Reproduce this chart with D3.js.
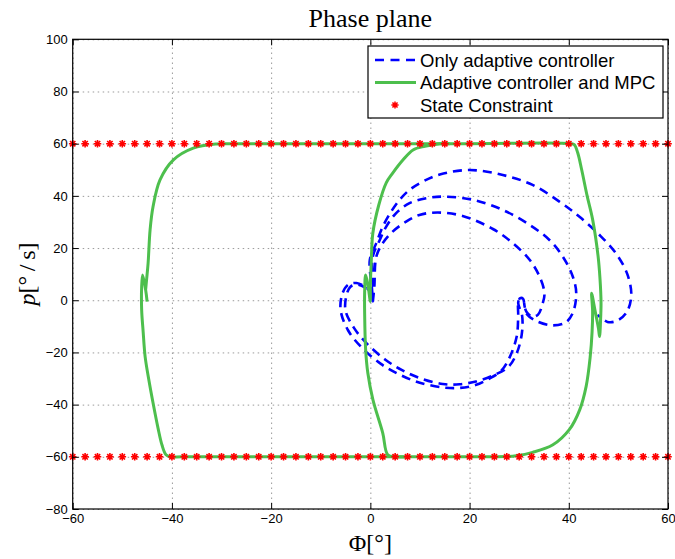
<!DOCTYPE html>
<meta charset="utf-8">

<script src="https://d3js.org/d3.v7.min.js"></script>

<style type="text/css">

body {
  margin: 0;
  background: #fff;
}

/* dotted grid */
.grid line {
  stroke: #9a9a9a;
  stroke-width: 1px;
  stroke-dasharray: 1.5 3.5;
}
.grid path {
  display: none;
}

.axis line {
  stroke: #000;
  stroke-width: 1px;
}
.axis path {
  display: none;
}
.axis text {
  font-family: "Liberation Sans", Arial, sans-serif;
  font-size: 13px;
  fill: #000;
}

.latex {
  font-family: "Liberation Serif", "Times New Roman", serif;
  fill: #000;
}

.legend text {
  font-family: "Liberation Sans", Arial, sans-serif;
  font-size: 18.5px;
  fill: #000;
}

</style>

<body>
</body>

<script>

// tick labels
var xTicks = [-60, -40, -20, 0, 20, 40, 60];
var yTicks = [-80, -60, -40, -20, 0, 20, 40, 60, 80, 100];

// state constraint markers (p = +/-60)
var constraintLevels = [60, -60];
var constraintX = [-60, -57.5, -55, -52.5, -50, -47.5, -45, -42.5, -40, -37.5, -35, -32.5,
  -30, -27.5, -25, -22.5, -20, -17.5, -15, -12.5, -10, -7.5, -5, -2.5, 0, 2.5, 5, 7.5,
  10, 12.5, 15, 17.5, 20, 22.5, 25, 27.5, 30, 32.5, 35, 37.5, 40, 42.5, 45, 47.5, 50,
  52.5, 55, 57.5, 60];

// only adaptive controller: [phi, p], three cycles
var adaptiveOnly = [
  [0.5, -0.5], [0.8, 5], [1.2, 16.7], [2.5, 21.9], [4.5, 26.3], [7.2, 30.1], [9.9, 32.7],
  [13.6, 33.6], [18.6, 32.3], [24.7, 27.3], [28.7, 21.9], [32.1, 15.5], [34.1, 9.1],
  [35.1, 2.7], [34.7, -1.5], [33.8, -5.5], [32.6, -6.3], [31.5, -4.5], [31.1, -2.4],
  [30.8, 0.5], [30.2, 0.8], [29.8, -1], [29.8, -6],
  [29.5, -13.9], [28.1, -21.8], [26.4, -27], [23.8, -30.2], [21.2, -32.5], [18, -33.6],
  [14.6, -33.4], [9.8, -31.5], [5.7, -28.3], [2.2, -24.5], [-1.8, -18], [-4.5, -11.5],
  [-6, -3.7], [-5.6, 2.7], [-4.5, 5.9], [-2.8, 6.6], [-1.1, 5.2], [0.2, 2.7], [0.5, -0.5],
  [0.6, 5], [0.5, 16.7], [1.9, 23.1], [3.2, 28.2], [5.2, 33.4], [7.9, 37.2], [11.3, 39.1],
  [14.6, 39.7], [20.7, 38.5], [26.7, 34.6], [32.1, 28.9], [36.1, 23.1], [38.8, 16.7],
  [40.8, 9.1], [41.5, 2.7], [40.8, -4.9], [39.3, -8.6], [36.5, -9.6], [33.5, -8],
  [31.6, -5.5], [31.1, -2.4], [30.8, 0.5], [30.2, 0.8], [29.8, -1], [30.6, -6],
  [30.5, -13.3], [29.4, -20.8], [27.8, -25.6], [25, -28.6], [21.5, -31], [18, -32.2],
  [14.6, -32.1], [10.1, -29.9], [6.3, -26.7], [3.1, -22.9], [-0.7, -16.6], [-3.3, -10.6],
  [-5, -4], [-4.8, 2], [-4, 5.2], [-2.5, 6], [-1, 4.8], [0.2, 2.4], [0.5, -0.5],
  [0.3, 5], [-0.1, 15.5], [1.2, 21.9], [2.5, 28.2], [4.2, 34], [5.9, 38.5], [7.9, 42.3],
  [10.6, 45.5], [14, 48.2], [20, 49.9], [26.7, 48], [32.7, 44.2], [38.1, 37.8],
  [42.1, 32.1], [46.2, 25], [49.5, 18], [51.8, 10], [52.6, 2], [51.7, -4.5],
  [49.8, -7.8], [47.8, -8.3], [45.8, -5.6]
];

// adaptive controller + MPC, outer loop
var mpcOuter = [
  [-45, -0.5], [-45.3, 4], [-45.9, 9.7], [-46.1, 5], [-46.1, -3.7], [-45.8, -12],
  [-45.4, -21.6], [-44.7, -30], [-43.8, -39.4], [-42.8, -49], [-42, -55.5], [-41.2, -59.2],
  [-40.3, -60], [-38, -60], [-20, -60], [0, -60], [20, -60], [27.4, -59.9], [29.4, -59.6],
  [32.7, -58.3], [36.8, -55.4], [40.1, -49.6], [42.2, -42], [43.5, -33], [44.3, -22],
  [44.7, -12], [44.8, -4], [44.6, 2.7], [45.3, -4], [46, -11], [46.2, -13.9], [46.4, -8],
  [46.5, -1], [46.3, 8], [45.9, 17], [44.8, 31], [43.7, 40], [42.6, 50], [41.8, 56.5],
  [41.1, 59.6], [40.4, 60], [20, 60], [0, 60], [-20, 60], [-28, 60], [-31, 59.9],
  [-35.7, 58.3], [-39.7, 53.8], [-42.4, 46.1], [-43.8, 35.9], [-44.4, 27], [-44.8, 14.2],
  [-45.1, 8], [-45.3, 4]
];

// adaptive controller + MPC, middle branch
var mpcInner = [
  [16, 60], [14, 60], [11, 59], [8.6, 57.6], [6.6, 53.8], [4.5, 48.7], [3.2, 45],
  [1.7, 36.5], [0.5, 25.7], [0.2, 15.5], [0, 5], [0, -0.5], [-0.5, 6], [-0.95, 9.7],
  [-1.15, 3], [-1.15, -5], [-0.95, -18.9], [-0.5, -28], [0.5, -38], [2.5, -50.9],
  [3.5, -59.2], [5, -60], [8, -60]
];

var margin = {top: 39.3, right: 7, bottom: 50, left: 72.7};
var width = 675 - margin.left - margin.right,
    height = 509 - margin.top;

var svg = d3.select("body").append("svg")
    .attr("width", 675)
    .attr("height", 559)
  .append("g")
    .attr("transform", "translate(" + margin.left + "," + margin.top + ")");

var xScale = d3.scaleLinear()
  .domain([-60, 60])
  .range([0, width]);

var yScale = d3.scaleLinear()
  .domain([-80, 100])
  .range([height, 0]);

// gridlines
svg.append("g")
    .attr("class", "grid")
    .attr("transform", "translate(0," + height + ")")
    .call(d3.axisBottom(xScale).tickValues(xTicks).tickSize(-height).tickFormat(""));

svg.append("g")
    .attr("class", "grid")
    .call(d3.axisLeft(yScale).tickValues(yTicks).tickSize(-width).tickFormat(""));

// curves
var line = d3.line()
  .x(function(d) { return xScale(d[0]); })
  .y(function(d) { return yScale(d[1]); })
  .curve(d3.curveCatmullRom.alpha(0.5));

svg.append("path")
    .datum(adaptiveOnly)
    .attr("d", line)
    .style("fill", "none")
    .style("stroke", "#0000ff")
    .style("stroke-width", 2.6)
    .style("stroke-dasharray", "9,6");

[mpcOuter, mpcInner].forEach(function(series) {
  svg.append("path")
      .datum(series)
      .attr("d", line)
      .style("fill", "none")
      .style("stroke", "#4dbf4d")
      .style("stroke-width", 3)
      .style("stroke-linejoin", "round");
});

// constraint stars
function star(r) {
  var d = r * 0.707;
  return "M" + (-r) + ",0L" + r + ",0M0," + (-r) + "L0," + r +
    "M" + (-d) + "," + (-d) + "L" + d + "," + d + "M" + (-d) + "," + d + "L" + d + "," + (-d);
}

var starData = [];
constraintLevels.forEach(function(level) {
  constraintX.forEach(function(x) { starData.push([x, level]); });
});

svg.selectAll(".star")
  .data(starData).enter().append("path")
  .attr("class", "star")
  .attr("transform", function(d) { return "translate(" + xScale(d[0]) + "," + yScale(d[1]) + ")"; })
  .attr("d", star(3.8))
  .style("stroke", "#ff0000")
  .style("stroke-width", 1.6)
  .style("fill", "none");

// axes with inward ticks on all four sides
svg.append("g")
    .attr("class", "axis")
    .attr("transform", "translate(0," + height + ")")
    .call(d3.axisBottom(xScale).tickValues(xTicks).tickSize(-6).tickPadding(5));

svg.append("g")
    .attr("class", "axis")
    .call(d3.axisLeft(yScale).tickValues(yTicks).tickSize(-6).tickPadding(5));

svg.append("g")
    .attr("class", "axis")
    .call(d3.axisTop(xScale).tickValues(xTicks).tickSize(-6).tickFormat(""));

svg.append("g")
    .attr("class", "axis")
    .attr("transform", "translate(" + width + ",0)")
    .call(d3.axisRight(yScale).tickValues(yTicks).tickSize(-6).tickFormat(""));

svg.append("rect")
    .attr("width", width)
    .attr("height", height)
    .style("fill", "none")
    .style("stroke", "#000")
    .style("stroke-width", 1.2);

// title and axis labels
svg.append("text")
    .attr("class", "latex")
    .attr("x", width / 2)
    .attr("y", -12)
    .attr("text-anchor", "middle")
    .style("font-size", "26px")
    .text("Phase plane");

svg.append("text")
    .attr("class", "latex")
    .attr("x", width / 2)
    .attr("y", height + 42)
    .attr("text-anchor", "middle")
    .style("font-size", "24px")
    .text("Φ[°]");

var yLabel = svg.append("text")
    .attr("class", "latex")
    .attr("transform", "translate(" + (35 - margin.left) + "," + (274 - margin.top) + ") rotate(-90)")
    .attr("text-anchor", "middle")
    .style("font-size", "24px");
yLabel.append("tspan").style("font-style", "italic").text("p");
yLabel.append("tspan").text("[°\u2009/\u2009s]");

// legend
var legend = svg.append("g")
    .attr("class", "legend")
    .attr("transform", "translate(" + (368 - margin.left) + "," + (46 - margin.top) + ")");

legend.append("rect")
    .attr("width", 295)
    .attr("height", 72)
    .style("fill", "#fff")
    .style("stroke", "#000")
    .style("stroke-width", 1.2);

var legendItems = ["Only adaptive controller", "Adaptive controller and MPC", "State Constraint"];

legendItems.forEach(function(label, i) {
  var cy = 14 + i * 22.5;
  if (i === 0) {
    legend.append("line")
        .attr("x1", 7).attr("x2", 48).attr("y1", cy).attr("y2", cy)
        .style("stroke", "#0000ff").style("stroke-width", 2.6)
        .style("stroke-dasharray", "9,6.5");
  } else if (i === 1) {
    legend.append("line")
        .attr("x1", 7).attr("x2", 48).attr("y1", cy).attr("y2", cy)
        .style("stroke", "#4dbf4d").style("stroke-width", 3);
  } else {
    legend.append("path")
        .attr("transform", "translate(27," + cy + ")")
        .attr("d", star(3.6))
        .style("stroke", "#ff0000").style("stroke-width", 1.5).style("fill", "none");
  }
  legend.append("text")
      .attr("x", 52)
      .attr("y", cy + 6.5)
      .text(label);
});

</script>
